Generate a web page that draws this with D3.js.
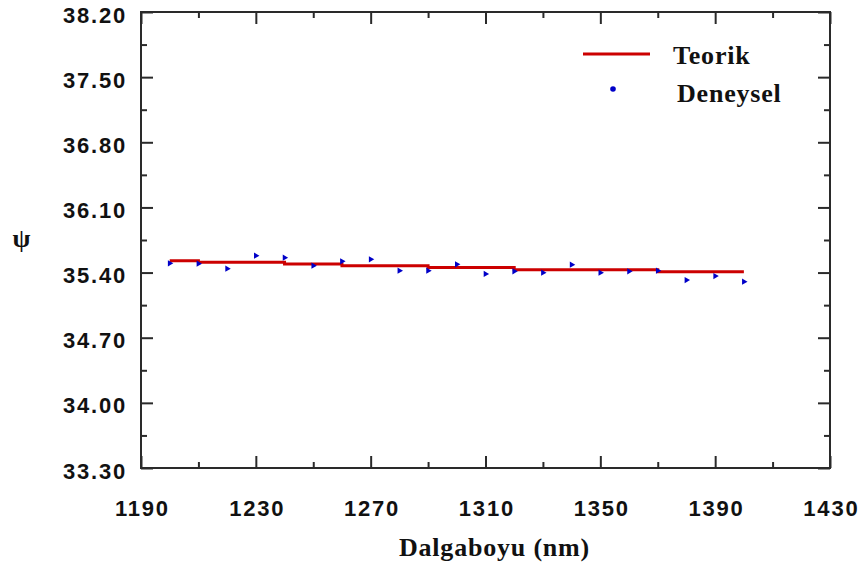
<!DOCTYPE html>
<html><head><meta charset="utf-8">
<script src="https://cdn.jsdelivr.net/npm/d3@7"></script>
<style>
html,body{margin:0;padding:0;background:#fff;}
svg{display:block;}
.tick text{font-family:"Liberation Sans",Arial,sans-serif;font-weight:bold;font-size:22px;letter-spacing:1.8px;fill:#111;}
.ser{font-family:"Liberation Serif","Times New Roman",serif;font-weight:bold;fill:#111;}
</style></head>
<body>
<script>
const deneyselX = [1200,1210,1220,1230,1240,1250,1260,1270,1280,1290,1300,1310,1320,1330,1340,1350,1360,1370,1380,1390,1400];
const deneyselY = [35.500,35.495,35.442,35.581,35.560,35.474,35.521,35.543,35.420,35.420,35.489,35.385,35.414,35.399,35.485,35.399,35.414,35.420,35.320,35.363,35.302];
const teorikX = [1200,1210,1240,1260,1290,1320,1370,1400];
const teorikY = [35.528,35.510,35.492,35.474,35.455,35.431,35.410,35.410];
const xTicks = [1190,1230,1270,1310,1350,1390,1430];
const xMinor = [1210,1250,1290,1330,1370,1410];
const yTicks = [33.30,34.00,34.70,35.40,36.10,36.80,37.50,38.20];
const yMinor = [33.65,34.35,35.05,35.75,36.45,37.15,37.85];
const legendLabels = ["Teorik","Deneysel"];
const xTitle = "Dalgaboyu (nm)";
const yTitle = "ψ";

const W = 865, H = 572;
const L = 141, R = 830, T = 12, B = 468;
const svg = d3.select("body").append("svg").attr("width", W).attr("height", H);
const x = d3.scaleLinear().domain([1190,1430]).range([L,R]);
const y = d3.scaleLinear().domain([33.3,38.2]).range([B,T]);
const axColor = "#2a2a2a";

function styleAxis(g){
  g.select(".domain").remove();
  g.selectAll(".tick line").attr("stroke", axColor).attr("stroke-width", 2);
}
// bottom
svg.append("g").attr("transform",`translate(0,${B})`)
  .call(d3.axisBottom(x).tickValues(xTicks).tickSize(-12).tickPadding(32.4).tickFormat(d3.format("d")))
  .call(styleAxis).call(g=>g.selectAll("text").attr("dx","0.9"));
svg.append("g").attr("transform",`translate(0,${B})`)
  .call(d3.axisBottom(x).tickValues(xMinor).tickSize(-6).tickFormat(""))
  .call(styleAxis);
// top
svg.append("g").attr("transform",`translate(0,${T})`)
  .call(d3.axisTop(x).tickValues(xTicks).tickSize(-12).tickFormat(""))
  .call(styleAxis);
svg.append("g").attr("transform",`translate(0,${T})`)
  .call(d3.axisTop(x).tickValues(xMinor).tickSize(-6).tickFormat(""))
  .call(styleAxis);
// left
svg.append("g").attr("transform",`translate(${L},0)`)
  .call(d3.axisLeft(y).tickValues(yTicks).tickSize(-12).tickPadding(14).tickFormat(d3.format(".2f")))
  .call(styleAxis).call(g=>g.selectAll("text").attr("dy","10"));
svg.append("g").attr("transform",`translate(${L},0)`)
  .call(d3.axisLeft(y).tickValues(yMinor).tickSize(-6).tickFormat(""))
  .call(styleAxis);
// right
svg.append("g").attr("transform",`translate(${R},0)`)
  .call(d3.axisRight(y).tickValues(yTicks).tickSize(-12).tickFormat(""))
  .call(styleAxis);
svg.append("g").attr("transform",`translate(${R},0)`)
  .call(d3.axisRight(y).tickValues(yMinor).tickSize(-6).tickFormat(""))
  .call(styleAxis);
// frame
svg.append("rect").attr("x",L).attr("y",T).attr("width",R-L).attr("height",B-T)
  .attr("fill","none").attr("stroke",axColor).attr("stroke-width",2);

// theoretical line
const line = d3.line().x((d,i)=>x(teorikX[i])).y((d,i)=>y(teorikY[i])).curve(d3.curveStepAfter);
svg.append("path").datum(teorikY).attr("d",line).attr("fill","none")
  .attr("stroke","#cc0000").attr("stroke-width",3);

// experimental points
const tri = d3.symbol().type(d3.symbolTriangle).size(17);
svg.append("g").selectAll("path").data(deneyselY).join("path")
  .attr("d", tri)
  .attr("transform",(d,i)=>`translate(${x(deneyselX[i])},${y(d)}) rotate(90)`)
  .attr("fill","#0000c8");

// legend
svg.append("line").attr("x1",583).attr("x2",650).attr("y1",54).attr("y2",54)
  .attr("stroke","#cc0000").attr("stroke-width",3);
svg.append("text").attr("class","ser").attr("x",673).attr("y",64).attr("font-size",26)
  .attr("letter-spacing","0.8").text(legendLabels[0]);
svg.append("circle").attr("cx",613).attr("cy",89).attr("r",2.8).attr("fill","#0000c8");
svg.append("text").attr("class","ser").attr("x",677).attr("y",101.5).attr("font-size",26)
  .attr("letter-spacing","0.8").text(legendLabels[1]);

// titles
svg.append("text").attr("class","ser").attr("x",494.5).attr("y",556).attr("font-size",26)
  .attr("letter-spacing","0.8").attr("text-anchor","middle").text(xTitle);
svg.append("text").attr("class","ser").attr("x",21.5).attr("y",247).attr("font-size",26)
  .attr("text-anchor","middle").text(yTitle);
</script>
</body></html>
